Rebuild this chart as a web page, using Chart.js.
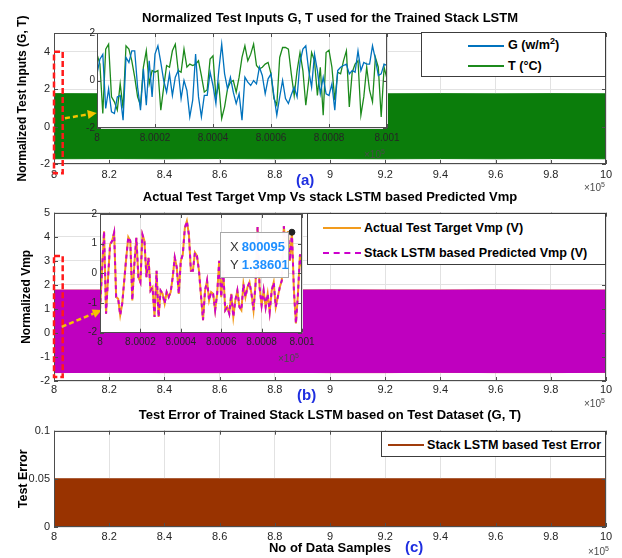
<!DOCTYPE html>
<html>
<head>
<meta charset="utf-8">
<script src="https://cdn.jsdelivr.net/npm/chart.js@4.4.1/dist/chart.umd.min.js"></script>
<style>
  body { margin: 0; background: #fff; }
  #page { position: relative; width: 622px; height: 558px; overflow: hidden; background: #fff;
          font-family: "Liberation Sans", Arial, Helvetica, sans-serif; }
  #page canvas { position: absolute; }
  .legend { position: absolute; background: #fff; border: 1px solid #3c3c3c; box-sizing: border-box; }
  .legend .line { position: absolute; height: 0; border-top: 2px solid; }
  .legend .txt { position: absolute; font-size: 12.6px; font-weight: bold; color: #000; white-space: nowrap; line-height: 16px; }
  .legend sup { font-size: 9px; line-height: 0; }
  .tag { position: absolute; font-size: 15px; font-weight: bold; color: #1f2fe0; line-height: 16px; }
  .expo { position: absolute; font-size: 10px; color: #4a4a4a; white-space: nowrap; line-height: 12px; }
  .expo sup { font-size: 7px; line-height: 0; }
  #tip { position: absolute; left: 220px; top: 232px; width: 69px; height: 46px; box-sizing: border-box;
         background: rgba(255,255,255,0.96); border: 1px solid #a8a8a8; font-size: 13px; line-height: 16px; }
  #tip div { position: absolute; left: 9px; white-space: nowrap; color: #333; }
  #tip b { color: #1e8fff; margin-left: 3px; }
</style>
</head>
<body>
<div id="page">
  <canvas id="panelA" width="660" height="192" style="left:0px; top:0px"></canvas>
  <canvas id="panelB" width="660" height="215" style="left:0px; top:185px"></canvas>
  <canvas id="panelC" width="660" height="158" style="left:0px; top:400px"></canvas>
  <canvas id="insetA" width="337" height="140" style="left:70px; top:25px"></canvas>
  <canvas id="insetB" width="247" height="150" style="left:75px; top:205px"></canvas>

  <div class="legend" style="left:421px; top:32px; width:185px; height:45px;">
    <div class="line" style="left:46px; top:12px; width:36px; border-color:#0072bd;"></div>
    <div class="txt" style="left:86px; top:4px;">G (w/m<sup>2</sup>)</div>
    <div class="line" style="left:46px; top:32px; width:36px; border-color:#1c8a1c;"></div>
    <div class="txt" style="left:86px; top:25px;">T (°C)</div>
  </div>
  <div class="legend" style="left:307px; top:213px; width:299px; height:52px;">
    <div class="line" style="left:15px; top:13px; width:38px; border-color:#f29b1d;"></div>
    <div class="txt" style="left:56px; top:6px;">Actual Test Target Vmp (V)</div>
    <div class="line" style="left:15px; top:38px; width:38px; border-top-style:dashed; border-color:#cc00cc;"></div>
    <div class="txt" style="left:56px; top:31px;">Stack LSTM based Predicted Vmp (V)</div>
  </div>
  <div class="legend" style="left:381px; top:431px; width:225px; height:26px;">
    <div class="line" style="left:6px; top:12px; width:36px; border-color:#a03c0c;"></div>
    <div class="txt" style="left:45px; top:5px;">Stack LSTM based Test Error</div>
  </div>

  <div class="tag" style="left:296px; top:172px;">(a)</div>
  <div class="tag" style="left:297px; top:387px;">(b)</div>
  <div class="tag" style="left:405px; top:539px;">(c)</div>

  <div class="expo" style="left:584px; top:182px;">×10<sup>5</sup></div>
  <div class="expo" style="left:584px; top:398px;">×10<sup>5</sup></div>
  <div class="expo" style="left:588px; top:546px;">×10<sup>5</sup></div>
  <div class="expo" style="left:364px; top:149px;">×10<sup>5</sup></div>
  <div class="expo" style="left:278px; top:353px;">×10<sup>5</sup></div>

  <div id="tip">
    <div style="top:6px;">X<b>800095</b></div>
    <div style="top:24px;">Y<b>1.38601</b></div>
  </div>
</div>

<script>
  // ---- data ----
  // x axis is the sample number (shown as x10^5)
  const mainXTicks = [800000, 820000, 840000, 860000, 880000, 900000, 920000, 940000, 960000, 980000, 1000000];
  const mainXLabels = ['8', '8.2', '8.4', '8.6', '8.8', '9', '9.2', '9.4', '9.6', '9.8', '10'];
  const yTicksA = [-2, 0, 2, 4];
  const yTicksB = [-2, -1, 0, 1, 2, 3, 4, 5];
  const yTicksC = [0, 0.05, 0.1];

  // the full test runs are dense bands, kept as their upper / lower envelope
  const bandX = [800000, 820000, 840000, 860000, 880000, 900000, 920000, 940000, 960000, 980000, 1000000];
  const tTop = [1.76, 1.75, 1.76, 1.75, 1.76, 1.76, 1.75, 1.76, 1.75, 1.76, 1.75];
  const tBottom = [-1.72, -1.71, -1.72, -1.71, -1.72, -1.71, -1.72, -1.71, -1.72, -1.71, -1.72];
  const vmpTop = [1.78, 1.78, 1.79, 1.78, 1.78, 1.79, 1.78, 1.78, 1.79, 1.78, 1.78];
  const vmpBottom = [-1.65, -1.64, -1.65, -1.65, -1.64, -1.65, -1.65, -1.64, -1.65, -1.65, -1.64];
  const errTop = [0.05, 0.05, 0.05, 0.05, 0.05, 0.05, 0.05, 0.05, 0.05, 0.05, 0.05];

  // zoomed first 100 samples (800000 .. 800100)
  const insetStart = 800000;
  const insetXTicks = [800000, 800020, 800040, 800060, 800080, 800100];
  const insetXLabels = ['8', '8.0002', '8.0004', '8.0006', '8.0008', '8.001'];
  const insetYTicksA = [-2, 0, 2];
  const insetYTicksB = [-2, -1, 0, 1, 2];

  const gInset = [
    0.28, 0.9, 1.1, -1.18, -0.35, -1.32, -1.39, -0.69, -0.63, -1.67,
    0.97, 0.76, 1.25, 1.25, -0.28, -1.25, 0.49, -1.04, 0.83, -0.69,
    1.11, 1.46, 0.76, 0, -0.49, 0.28, -0.63, 0.14, 0.42, -0.76,
    0, -0.42, -1.53, -0.83, 1.11, -0.69, -1.53, -0.63, -0.63, 0.35,
    -0.21, -0.97, 0.42, 1.53, 0.28, -0.35, 0.14, -0.49, -0.97, -0.56,
    -1.67, 0.14, -0.07, -0.21, 0, -0.14, 0.56, 0.21, -0.56, 0.07,
    0.28, -0.63, -1.46, -0.69, 0, -0.76, -0.97, -0.6, -0.28, -0.69,
    0.76, 1.32, 1.46, 0.42, -0.28, 1.11, 0.42, -0.56, 0.14, -0.56,
    -0.63, -0.14, -1.25, 0.42, 0.56, 0.63, 0.69, 0.28, 0.42, 0.35,
    1.25, 0.42, 0.76, 0.69, 0.69, 1.46, 0.9, 0.21, 0.28, 0.69,
    0.63
  ];
  const tInset = [
    1.11, 0.69, -1.39, 1.32, 1.53, -0.69, -0.9, -1.25, -0.14, -1.18,
    1.46, 1.32, 0.83, 0.14, -0.69, -1.04, 0.56, 1.25, -0.14, 0.42,
    0.35, 0.42, -1.25, -0.28, 0.63, 0.56, 1.25, 1.53, 0.42, 0.35,
    1.32, 0.56, 0.69, 0.63, 0.69, 0.83, 0.21, -0.49, -0.39, 0.9,
    1.04, -0.69, -0.14, -1.6, -1.11, -0.35, -0.07, 0, -0.49, 0.14,
    0.97, 1.46, 0.83, 1.11, 1.53, 0.63, 0.49, 0.56, 0.69, 0.76,
    0.28, -0.76, -1.04, 0.97, 1.39, 1.39, 1.32, 0.28, -0.63, 0.42,
    1.18, 0.42, -1.04, 0, 1.18, 0.83, -0.63, 0.56, -1.46, 1.18,
    1.28, 0.56, -0.83, 0.35, 0.28, 0.83, 1.25, -1.11, 0.35, 0.69,
    0.83, -1.46, -0.69, 0.56, -0.42, -0.9, 0.97, 0.56, -1.53, 0.56,
    0.07
  ];
  const vmpActual = [
    -1.24, 0.09, 1.42, -1.36, -0.13, 0.98, 1.09, 1.37, -0.8, -0.86,
    -1.41, -1.02, -0.24, 0.53, 1.22, 1.09, -0.91, 0.31, 1.2, -0.13,
    -0.3, 1.31, 1.09, -0.13, 0.53, -0.58, -0.47, -1.47, 0.09, -1.47,
    -0.58, -0.69, -1.02, -0.63, -0.8, -0.63, -0.13, 0.53, 0.2, -0.69,
    0.42, 0.64, 1.53, 1.76, 1.31, 0.09, 0.09, 0.7, 0.59, 0.09,
    -0.75, -1.58, -0.58, -0.24, -0.91, -0.63, -0.69, -1.24, -0.69, 0.42,
    -0.8, 0.09, -1.24, -1.13, -1.36, -0.69, -1.47, -0.91, -0.58, -1.13,
    -1.24, -0.36, -0.8, -0.47, -0.3, -0.69, -1.24, -0.36, 1.56, -0.47,
    -1.08, -0.58, -1.13, -0.69, -1.3, -0.58, -0.3, -1.13, -0.8, -0.47,
    -0.24, 1.59, 0.87, 1.42, 0.42, 1.38601, -0.58, -1.69, -0.69, 0.64,
    0.14
  ];
  // the prediction sits on top of the target in the figure
  const vmpPredicted = vmpActual.slice();
  const tipPoint = { x: 800095, y: 1.38601 };

  // ---- chart setup ----
  Chart.defaults.font.family = "'Liberation Sans', Arial, Helvetica, sans-serif";
  Chart.defaults.color = '#262626';
  Chart.defaults.animation = false;
  Chart.defaults.events = [];
  Chart.defaults.plugins.legend.display = false;
  Chart.defaults.plugins.tooltip.enabled = false;

  function xy(xs, ys) {
    return ys.map((v, i) => ({ x: xs[i], y: v }));
  }
  function seq(values) {
    return values.map((v, i) => ({ x: insetStart + i, y: v }));
  }

  // box round the axes with small inward ticks, like matlab
  function frame(fill) {
    return {
      id: 'frame',
      beforeDraw(chart) {
        if (!fill) return;
        const a = chart.chartArea;
        chart.ctx.save();
        chart.ctx.fillStyle = fill;
        chart.ctx.fillRect(a.left, a.top, a.right - a.left, a.bottom - a.top);
        chart.ctx.restore();
      },
      afterDraw(chart) {
        const ctx = chart.ctx, a = chart.chartArea, sx = chart.scales.x, sy = chart.scales.y;
        ctx.save();
        ctx.strokeStyle = '#4d4d4d';
        ctx.lineWidth = 1;
        ctx.beginPath();
        sx.ticks.forEach(t => {
          const p = Math.round(sx.getPixelForValue(t.value)) + 0.5;
          ctx.moveTo(p, a.bottom); ctx.lineTo(p, a.bottom - 4);
          ctx.moveTo(p, a.top); ctx.lineTo(p, a.top + 4);
        });
        sy.ticks.forEach(t => {
          const p = Math.round(sy.getPixelForValue(t.value)) + 0.5;
          ctx.moveTo(a.left, p); ctx.lineTo(a.left + 4, p);
          ctx.moveTo(a.right, p); ctx.lineTo(a.right - 4, p);
        });
        ctx.stroke();
        ctx.strokeRect(Math.round(a.left) + 0.5, Math.round(a.top) + 0.5,
                       Math.round(a.right - a.left) - 1, Math.round(a.bottom - a.top) - 1);
        ctx.restore();
      }
    };
  }

  // red dashed box on the zoomed part and the yellow arrow to the inset
  function zoomMark(box, arrow) {
    return {
      id: 'zoomMark',
      afterDraw(chart) {
        const ctx = chart.ctx, sx = chart.scales.x, sy = chart.scales.y;
        ctx.save();
        ctx.strokeStyle = '#ff1a1a';
        ctx.lineWidth = 2.5;
        ctx.setLineDash([6, 3]);
        const x0 = sx.getPixelForValue(box.x[0]), x1 = sx.getPixelForValue(box.x[1]);
        const y0 = sy.getPixelForValue(box.y[0]), y1 = sy.getPixelForValue(box.y[1]);
        ctx.strokeRect(x0, y0, x1 - x0, y1 - y0);

        const ax = sx.getPixelForValue(arrow.from[0]), ay = sy.getPixelForValue(arrow.from[1]);
        const bx = sx.getPixelForValue(arrow.to[0]), by = sy.getPixelForValue(arrow.to[1]);
        const ang = Math.atan2(by - ay, bx - ax);
        const hx = bx - 9 * Math.cos(ang), hy = by - 9 * Math.sin(ang);
        ctx.strokeStyle = '#f5c400';
        ctx.fillStyle = '#f5c400';
        ctx.setLineDash([5, 3]);
        ctx.beginPath();
        ctx.moveTo(ax, ay);
        ctx.lineTo(hx, hy);
        ctx.stroke();
        ctx.setLineDash([]);
        ctx.beginPath();
        ctx.moveTo(bx, by);
        ctx.lineTo(hx + 4.5 * Math.sin(ang), hy - 4.5 * Math.cos(ang));
        ctx.lineTo(hx - 4.5 * Math.sin(ang), hy + 4.5 * Math.cos(ang));
        ctx.closePath();
        ctx.fill();
        ctx.restore();
      }
    };
  }

  function panel(id, o) {
    return new Chart(document.getElementById(id), {
      type: 'line',
      data: { datasets: o.datasets },
      options: {
        responsive: false,
        layout: { padding: { left: 0, right: 54, top: 0, bottom: 0 } },
        elements: { point: { radius: 0 }, line: { tension: 0, borderWidth: 1 } },
        plugins: {
          // fullSize false keeps the title centred over the plot box
          title: { display: true, text: o.title, color: '#000', fullSize: false,
                   font: { size: 13, weight: 'bold' }, padding: o.titlePad }
        },
        scales: {
          x: {
            type: 'linear', min: 800000, max: 1000000,
            afterBuildTicks: s => { s.ticks = mainXTicks.map(v => ({ value: v })); },
            afterFit: s => { s.height = o.xHeight; },
            grid: { color: '#e2e2e2', drawTicks: false },
            border: { display: false },
            ticks: { padding: o.xPad, autoSkip: false, maxRotation: 0, font: { size: 11 },
                     callback: (v, i) => mainXLabels[i] },
            title: o.xTitle || { display: false }
          },
          y: {
            type: 'linear', min: o.yMin, max: o.yMax,
            afterBuildTicks: s => { s.ticks = o.yTicks.map(v => ({ value: v })); },
            afterFit: s => { s.width = 54; },
            grid: { color: '#e2e2e2', drawTicks: false },
            border: { display: false },
            ticks: { padding: 4, font: { size: 11 }, callback: v => String(v) },
            title: { display: true, text: o.yTitle, color: '#000',
                     font: { size: o.yTitleSize, weight: 'bold' }, padding: { top: o.yTitlePad, bottom: 0 } }
          }
        }
      },
      plugins: o.mark ? [frame(null), o.mark] : [frame(null)]
    });
  }

  function inset(id, o) {
    return new Chart(document.getElementById(id), {
      type: 'line',
      data: { datasets: o.datasets },
      options: {
        responsive: false,
        layout: { padding: { left: 0, right: 20, top: o.top, bottom: 0 } },
        elements: { point: { radius: 0 }, line: { tension: 0 } },
        scales: {
          x: {
            type: 'linear', min: 800000, max: 800100,
            afterBuildTicks: s => { s.ticks = insetXTicks.map(v => ({ value: v })); },
            afterFit: s => { s.height = o.xHeight; },
            grid: { color: '#e0e0e0', drawTicks: false },
            border: { display: false },
            ticks: { padding: 4, autoSkip: false, maxRotation: 0, font: { size: 10 },
                     callback: (v, i) => insetXLabels[i] }
          },
          y: {
            type: 'linear', min: -2, max: 2,
            afterBuildTicks: s => { s.ticks = o.yTicks.map(v => ({ value: v })); },
            afterFit: s => { s.width = o.yWidth; },
            grid: { color: '#e0e0e0', drawTicks: false },
            border: { display: false },
            ticks: { padding: o.yPad, font: { size: 10 }, callback: v => String(v) }
          }
        }
      },
      plugins: [frame('#ffffff')]
    });
  }

  // (a) normalized inputs
  panel('panelA', {
    title: 'Normalized Test Inputs G, T used for the Trained Stack LSTM',
    titlePad: { top: 10.2, bottom: 7.2 },
    xHeight: 28, xPad: 4,
    yMin: -2, yMax: 5, yTicks: yTicksA,
    yTitle: 'Normalized Test Inputs (G, T)', yTitleSize: 12, yTitlePad: 15.8,
    datasets: [
      { label: 'T top', data: xy(bandX, tTop), borderColor: '#0b7d0b', fill: false },
      { label: 'T (°C)', data: xy(bandX, tBottom), borderColor: '#0b7d0b', backgroundColor: '#0b7d0b', fill: '-1' }
    ],
    mark: zoomMark({ x: [800000, 803150], y: [4.0, -2.5] },
                   { from: [803985, 0.45], to: [815470, 0.72] })
  });

  // (b) actual vs predicted Vmp
  panel('panelB', {
    title: 'Actual Test Target Vmp Vs stack LSTM based Predicted Vmp',
    titlePad: { top: 4.5, bottom: 7.6 },
    xHeight: 19, xPad: 2,
    yMin: -2, yMax: 5, yTicks: yTicksB,
    yTitle: 'Normalized Vmp', yTitleSize: 12, yTitlePad: 19.5,
    datasets: [
      { label: 'Predicted top', data: xy(bandX, vmpTop), borderColor: '#bf00bf', fill: false },
      { label: 'Stack LSTM based Predicted Vmp (V)', data: xy(bandX, vmpBottom), borderColor: '#bf00bf', backgroundColor: '#bf00bf', fill: '-1' },
      { label: 'Actual top', data: xy(bandX, vmpTop), borderColor: '#f29b1d', fill: false },
      { label: 'Actual Test Target Vmp (V)', data: xy(bandX, vmpBottom), borderColor: '#f29b1d', backgroundColor: '#f29b1d', fill: '-1' }
    ],
    mark: zoomMark({ x: [800000, 803150], y: [3.2, -1.83] },
                   { from: [802790, 0.25], to: [817280, 0.95] })
  });

  // (c) test error
  panel('panelC', {
    title: 'Test Error of Trained Stack LSTM based on Test Dataset (G, T)',
    titlePad: { top: 7.2, bottom: 7.9 },
    xHeight: 31, xPad: 3,
    xTitle: { display: true, text: 'No of Data Samples', color: '#000',
              font: { size: 13, weight: 'bold' }, padding: { top: 0, bottom: 2 } },
    yMin: 0, yMax: 0.1, yTicks: yTicksC,
    yTitle: 'Test Error', yTitleSize: 12.5, yTitlePad: 16.5,
    datasets: [
      { label: 'Stack LSTM based Test Error', data: xy(bandX, errTop), borderColor: '#993300', backgroundColor: '#993300', fill: 'origin' }
    ]
  });

  // inset of (a)
  inset('insetA', {
    top: 7, xHeight: 37, yWidth: 27, yPad: 2, yTicks: insetYTicksA,
    datasets: [
      { label: 'G (w/m2)', data: seq(gInset), borderColor: '#0072bd', borderWidth: 1.3 },
      { label: 'T (°C)', data: seq(tInset), borderColor: '#1c8a1c', borderWidth: 1.3 }
    ]
  });

  // inset of (b)
  inset('insetB', {
    top: 7.7, xHeight: 22.3, yWidth: 25, yPad: 3, yTicks: insetYTicksB,
    datasets: [
      { type: 'scatter', label: 'tip', data: [tipPoint], pointRadius: 3, pointBackgroundColor: '#222', pointBorderColor: '#222' },
      { label: 'Stack LSTM based Predicted Vmp (V)', data: seq(vmpPredicted), borderColor: '#cc00cc', borderWidth: 2, borderDash: [4, 4] },
      { label: 'Actual Test Target Vmp (V)', data: seq(vmpActual), borderColor: '#f29b1d', borderWidth: 2 }
    ]
  });
</script>
</body>
</html>
